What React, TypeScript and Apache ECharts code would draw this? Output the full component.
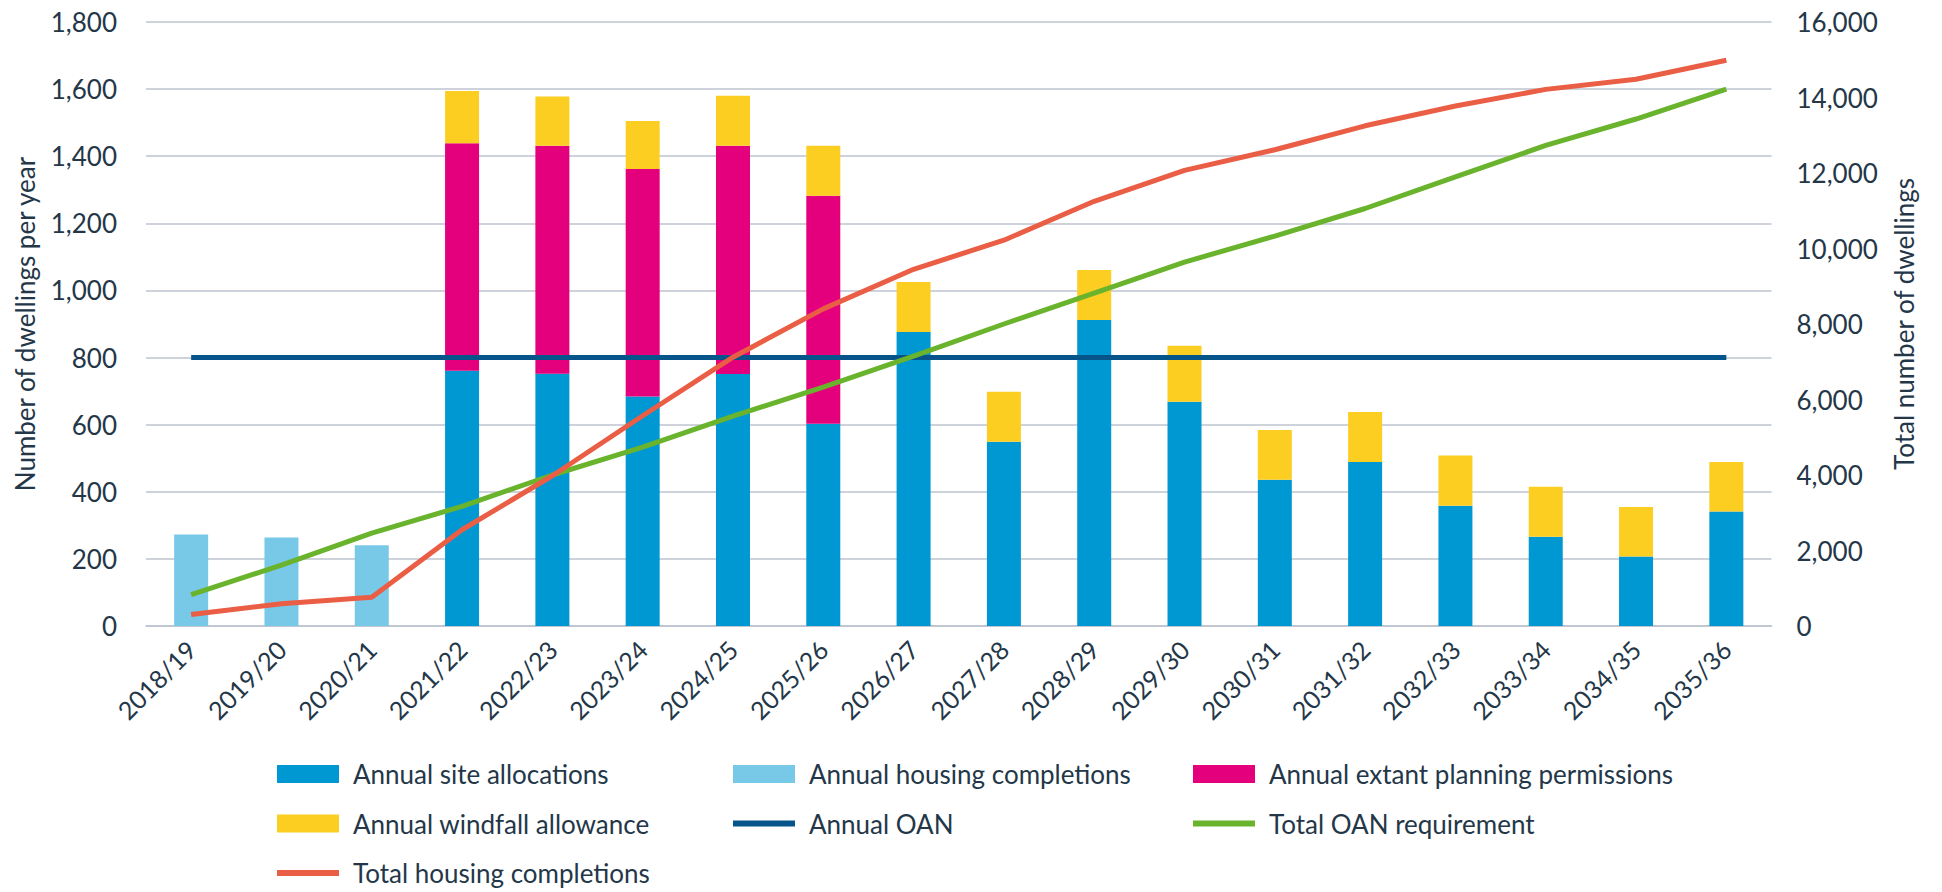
import React, { useEffect, useRef } from "react";
import * as echarts from "echarts";

const categories = [
  "2018/19", "2019/20", "2020/21", "2021/22", "2022/23", "2023/24",
  "2024/25", "2025/26", "2026/27", "2027/28", "2028/29", "2029/30",
  "2030/31", "2031/32", "2032/33", "2033/34", "2034/35", "2035/36",
];

const annualHousingCompletions = [273, 264, 241, 0, 0, 0, 0, 0, 0, 0, 0, 0, 0, 0, 0, 0, 0, 0];
const annualSiteAllocations = [0, 0, 0, 761, 752, 684, 751, 603, 876, 549, 912, 668, 436, 489, 358, 266, 207, 341];
const annualExtantPermissions = [0, 0, 0, 678, 679, 678, 680, 679, 0, 0, 0, 0, 0, 0, 0, 0, 0, 0];
const annualWindfallAllowance = [0, 0, 0, 155, 147, 143, 149, 149, 149, 149, 149, 167, 148, 149, 150, 149, 148, 148];
const annualOAN = [800, 800, 800, 800, 800, 800, 800, 800, 800, 800, 800, 800, 800, 800, 800, 800, 800, 800];
const totalOANRequirement = [833, 1610, 2460, 3170, 4000, 4740, 5560, 6330, 7150, 8000, 8820, 9640, 10330, 11060, 11900, 12730, 13430, 14220];
const totalHousingCompletions = [305, 590, 760, 2550, 3980, 5570, 7120, 8400, 9450, 10220, 11250, 12070, 12615, 13250, 13775, 14215, 14485, 14985];

const leftTicks = { min: 0, max: 1800, interval: 200 };
const rightTicks = { min: 0, max: 16000, interval: 2000 };

const FONT = "Lato";
const TEXT = "#243748";
const GRID = "#bcc3cf";

const C_SITE = "#0098d2";
const C_COMP = "#78c9e8";
const C_EXTANT = "#e4007c";
const C_WIND = "#fdce22";
const C_OAN = "#06558a";
const C_TOAN = "#69b32d";
const C_TCOMP = "#ea5e45";

const lineIcon = "path://M0,0H62V6H0Z";

export default function App() {
  const ref = useRef<HTMLDivElement>(null);

  useEffect(() => {
    const chart = echarts.init(ref.current!, null, { renderer: "svg" });
    const legendBase = {
      orient: "vertical",
      top: 761,
      padding: 0,
      itemWidth: 62,
      itemHeight: 18,
      itemGap: 23.5,
      selectedMode: false,
      itemStyle: { borderWidth: 0 },
      textStyle: {
        fontFamily: FONT,
        fontSize: 26,
        color: TEXT,
        lineHeight: 26,
        padding: [0, 0, 0, 9],
      },
    };
    chart.setOption({
      animation: false,
      textStyle: { fontFamily: FONT },
      grid: { left: 146, right: 170.5, top: 22, bottom: 266, containLabel: false },
      legend: [
        {
          ...legendBase,
          left: 277,
          data: [
            { name: "Annual site allocations", icon: "rect" },
            { name: "Annual windfall allowance", icon: "rect" },
            { name: "Total housing completions", icon: lineIcon },
          ],
        },
        {
          ...legendBase,
          left: 733,
          data: [
            { name: "Annual housing completions", icon: "rect" },
            { name: "Annual OAN", icon: lineIcon },
          ],
        },
        {
          ...legendBase,
          left: 1193,
          data: [
            { name: "Annual extant planning permissions", icon: "rect" },
            { name: "Total OAN requirement", icon: lineIcon },
          ],
        },
      ],
      xAxis: {
        type: "category",
        data: categories,
        boundaryGap: true,
        axisLine: { show: true, lineStyle: { color: GRID, width: 1.5 } },
        axisTick: { show: false },
        axisLabel: {
          interval: 0,
          rotate: 45,
          margin: 19,
          fontFamily: FONT,
          fontSize: 25,
          color: TEXT,
        },
      },
      yAxis: [
        {
          type: "value",
          ...leftTicks,
          name: "Number of dwellings per year",
          nameLocation: "middle",
          nameGap: 108,
          nameTextStyle: { fontFamily: FONT, fontSize: 26, color: TEXT },
          axisLine: { show: false },
          axisTick: { show: false },
          splitLine: { show: true, lineStyle: { color: GRID, width: 1.5 } },
          axisLabel: {
            margin: 29,
            fontFamily: FONT,
            fontSize: 26,
            color: TEXT,
            formatter: (v: number) => v.toLocaleString("en-GB"),
          },
        },
        {
          type: "value",
          ...rightTicks,
          position: "right",
          name: "Total number of dwellings",
          nameLocation: "middle",
          nameGap: 119,
          nameTextStyle: { fontFamily: FONT, fontSize: 26, color: TEXT },
          axisLine: { show: false },
          axisTick: { show: false },
          splitLine: { show: false },
          axisLabel: {
            margin: 25,
            fontFamily: FONT,
            fontSize: 26,
            color: TEXT,
            formatter: (v: number) => v.toLocaleString("en-GB"),
          },
        },
      ],
      series: [
        {
          name: "Annual housing completions",
          type: "bar",
          stack: "a",
          barWidth: 34,
          data: annualHousingCompletions,
          itemStyle: { color: C_COMP },
        },
        {
          name: "Annual site allocations",
          type: "bar",
          stack: "a",
          barWidth: 34,
          data: annualSiteAllocations,
          itemStyle: { color: C_SITE },
        },
        {
          name: "Annual extant planning permissions",
          type: "bar",
          stack: "a",
          barWidth: 34,
          data: annualExtantPermissions,
          itemStyle: { color: C_EXTANT },
        },
        {
          name: "Annual windfall allowance",
          type: "bar",
          stack: "a",
          barWidth: 34,
          data: annualWindfallAllowance,
          itemStyle: { color: C_WIND },
        },
        {
          name: "Annual OAN",
          type: "line",
          yAxisIndex: 0,
          data: annualOAN,
          symbol: "none",
          itemStyle: { color: C_OAN },
          lineStyle: { color: C_OAN, width: 5 },
        },
        {
          name: "Total OAN requirement",
          type: "line",
          yAxisIndex: 1,
          data: totalOANRequirement,
          symbol: "none",
          itemStyle: { color: C_TOAN },
          lineStyle: { color: C_TOAN, width: 5 },
        },
        {
          name: "Total housing completions",
          type: "line",
          yAxisIndex: 1,
          data: totalHousingCompletions,
          symbol: "none",
          itemStyle: { color: C_TCOMP },
          lineStyle: { color: C_TCOMP, width: 5 },
        },
      ],
    });
    return () => chart.dispose();
  }, []);

  return (
    <div
      ref={ref}
      style={{ position: "absolute", left: 0, top: 0, width: 1942, height: 892 }}
    />
  );
}
